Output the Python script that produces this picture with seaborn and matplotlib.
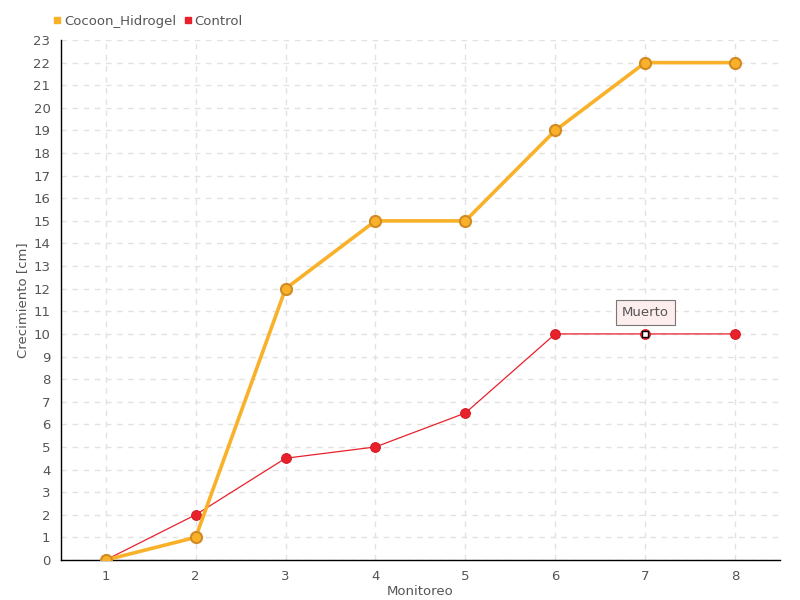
import pandas as pd
import matplotlib
matplotlib.use("Agg")
import matplotlib.pyplot as plt
import seaborn as sns

# Datos
monitoreo = [1, 2, 3, 4, 5, 6, 7, 8]
cocoon = [0, 1, 12, 15, 15, 19, 22, 22]
control = [0, 2, 4.5, 5, 6.5, 10, 10, 10]

sns.set_style("white")
plt.rcParams['font.family'] = ['DejaVu Sans']

gris = "#555555"
naranja = "#F9B12A"
rojo = "#E8212B"

fig = plt.figure(figsize=(8, 6), dpi=100)
ax = fig.add_axes([0.076, 0.0667, 0.899, 0.8666])

df = pd.DataFrame({"Monitoreo": monitoreo, "Cocoon_Hidrogel": cocoon, "Control": control})

sns.lineplot(data=df, x="Monitoreo", y="Control", ax=ax, color=rojo, lw=0.9,
             marker="o", markersize=7, markeredgecolor="#D21A24", zorder=3)
sns.lineplot(data=df, x="Monitoreo", y="Cocoon_Hidrogel", ax=ax, color=naranja, lw=2.6,
             marker="o", markersize=8, markeredgecolor="#D28A22", markeredgewidth=1.5, zorder=4)

# punto "Muerto"
ax.plot(7, 10, marker="s", markersize=4.5, markerfacecolor="white",
        markeredgecolor="black", markeredgewidth=1, zorder=6, linestyle="none")
ax.annotate("Muerto", xy=(7, 10), xytext=(7, 10.95), ha="center", va="center",
            fontsize=9.5, color=gris, zorder=7,
            bbox=dict(boxstyle="square,pad=0.45", fc="#FDEDED", ec="#777777", lw=0.8))

ax.set_xlim(0.5, 8.5)
ax.set_ylim(0, 23)
ax.set_xticks(monitoreo)
ax.set_yticks(range(0, 24))
ax.tick_params(axis="both", labelsize=9.5, colors=gris, length=4, direction="out")
ax.tick_params(axis="both", color="black")
ax.set_xlabel("Monitoreo", fontsize=9.5, color=gris, labelpad=1)
ax.set_ylabel("Crecimiento [cm]", fontsize=9.5, color=gris, labelpad=3)

ax.grid(True, linestyle=(0, (4, 4)), color="#E2E2E2", lw=1)
for s in ["top", "right"]:
    ax.spines[s].set_visible(False)
for s in ["left", "bottom"]:
    ax.spines[s].set_color("black")
    ax.spines[s].set_linewidth(1)

# leyenda
handles = [plt.Line2D([], [], marker="s", color=naranja, linestyle="none", markersize=5),
           plt.Line2D([], [], marker="s", color=rojo, linestyle="none", markersize=5)]
fig.legend(handles, ["Cocoon_Hidrogel", "Control"], loc="upper left",
           bbox_to_anchor=(0.052, 0.995), ncol=2, frameon=False, fontsize=9.5,
           handlelength=0.6, handletextpad=0.2, columnspacing=0.6, labelcolor=gris)

fig.savefig("out.png", dpi=100)
